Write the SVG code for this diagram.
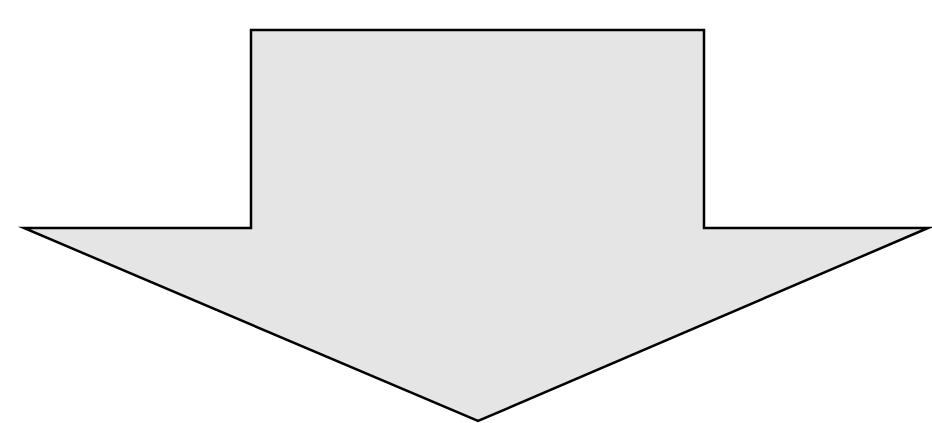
<svg xmlns="http://www.w3.org/2000/svg" width="932" height="423" viewBox="0 0 932 423">
<style>.arrow{fill:#e5e5e5;stroke:#000;stroke-width:2.5;stroke-linejoin:miter;stroke-miterlimit:10}</style>
<rect width="932" height="423" fill="#fff"/>
<g id="arrow">
<polygon class="arrow" points="251,30 704,30 704,228 928,228 478,421 24,228 251,228"/>
</g>
</svg>
